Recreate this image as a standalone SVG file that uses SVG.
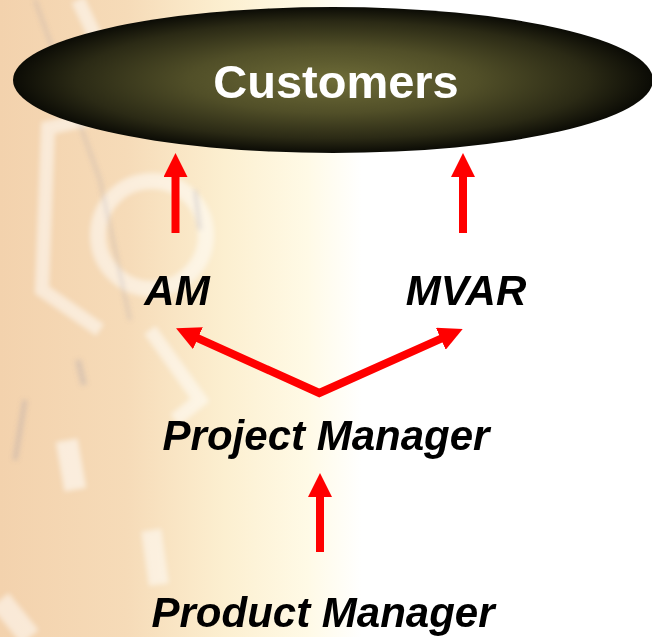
<svg xmlns="http://www.w3.org/2000/svg" width="652" height="637" viewBox="0 0 652 637">
  <defs>
    <linearGradient id="bg" x1="0" y1="0" x2="1" y2="0">
      <stop offset="0" stop-color="#f3d2ad"/>
      <stop offset="0.35" stop-color="#f6dbb8"/>
      <stop offset="0.62" stop-color="#fcefd0"/>
      <stop offset="0.85" stop-color="#fffae6"/>
      <stop offset="1" stop-color="#ffffff"/>
    </linearGradient>
    <radialGradient id="ell" cx="0.5" cy="0.5" r="0.5">
      <stop offset="0" stop-color="#6e6c38"/>
      <stop offset="0.45" stop-color="#514f28"/>
      <stop offset="0.8" stop-color="#2b2a15"/>
      <stop offset="1" stop-color="#0b0b05"/>
    </radialGradient>
    <filter id="soft" x="-10%" y="-10%" width="120%" height="120%">
      <feGaussianBlur stdDeviation="2.5"/>
    </filter>
    <marker id="head" viewBox="0 0 24 24" markerWidth="24" markerHeight="24" markerUnits="userSpaceOnUse" refX="1" refY="12" orient="auto-start-reverse">
      <path d="M0,0 L24,12 L0,24 Z" fill="#ff0000"/>
    </marker>
    <style>
      .lbl { font-family: "Liberation Sans", Arial, sans-serif; font-weight: bold; font-style: italic; font-size: 42px; fill: #000000; text-anchor: middle; }
      .title { font-family: "Liberation Sans", Arial, sans-serif; font-weight: bold; font-size: 47px; fill: #ffffff; text-anchor: middle; }
      .arrow { fill: none; stroke: #ff0000; stroke-width: 8; stroke-linejoin: miter; marker-end: url(#head); }
      .deco { fill: none; stroke: #ffffff; stroke-opacity: 0.5; }
      .decoLine { fill: none; stroke: #8c8aa8; stroke-opacity: 0.25; }
    </style>
  </defs>

  <g id="background">
    <rect x="0" y="0" width="652" height="637" fill="#ffffff"/>
    <rect x="0" y="0" width="362" height="637" fill="url(#bg)"/>
    <g filter="url(#soft)">
      <path class="deco" d="M78,0 L130,110 L48,128 L42,290 L100,330" stroke-width="14"/>
      <circle class="deco" cx="152" cy="235" r="54" stroke-width="16"/>
      <path class="deco" d="M150,330 L200,400 L175,420" stroke-width="14"/>
      <rect x="60" y="440" width="22" height="50" fill="#ffffff" fill-opacity="0.55" transform="rotate(-10 71 465)"/>
      <rect x="145" y="530" width="20" height="55" fill="#ffffff" fill-opacity="0.5" transform="rotate(-8 155 557)"/>
      <path d="M0,600 L30,637" stroke="#ffffff" stroke-opacity="0.5" stroke-width="22"/>
      <path class="decoLine" d="M35,0 L100,180 L130,320" stroke-width="3"/>
      <path class="decoLine" d="M195,190 L200,230" stroke-width="4"/>
      <path class="decoLine" d="M15,460 L25,400" stroke-width="5"/>
      <path class="decoLine" d="M78,360 L84,385" stroke-width="6"/>
    </g>
  </g>

  <g id="connectors">
    <path class="arrow" d="M175.5,233 L175.5,176"/>
    <path class="arrow" d="M463,233 L463,176"/>
    <path class="arrow" d="M197,337.8 L319.3,393 L441.7,338.4" style="marker-start:url(#head)"/>
    <path class="arrow" d="M320,552 L320,496"/>
  </g>

  <g id="customers">
    <ellipse cx="333" cy="80" rx="320" ry="73" fill="url(#ell)"/>
    <text class="title" x="336" y="98">Customers</text>
  </g>
  <g id="am">
    <text class="lbl" x="177" y="305">AM</text>
  </g>
  <g id="mvar">
    <text class="lbl" x="466" y="305">MVAR</text>
  </g>
  <g id="project-manager">
    <text class="lbl" x="326" y="450">Project Manager</text>
  </g>
  <g id="product-manager">
    <text class="lbl" x="323" y="627">Product Manager</text>
  </g>
</svg>
